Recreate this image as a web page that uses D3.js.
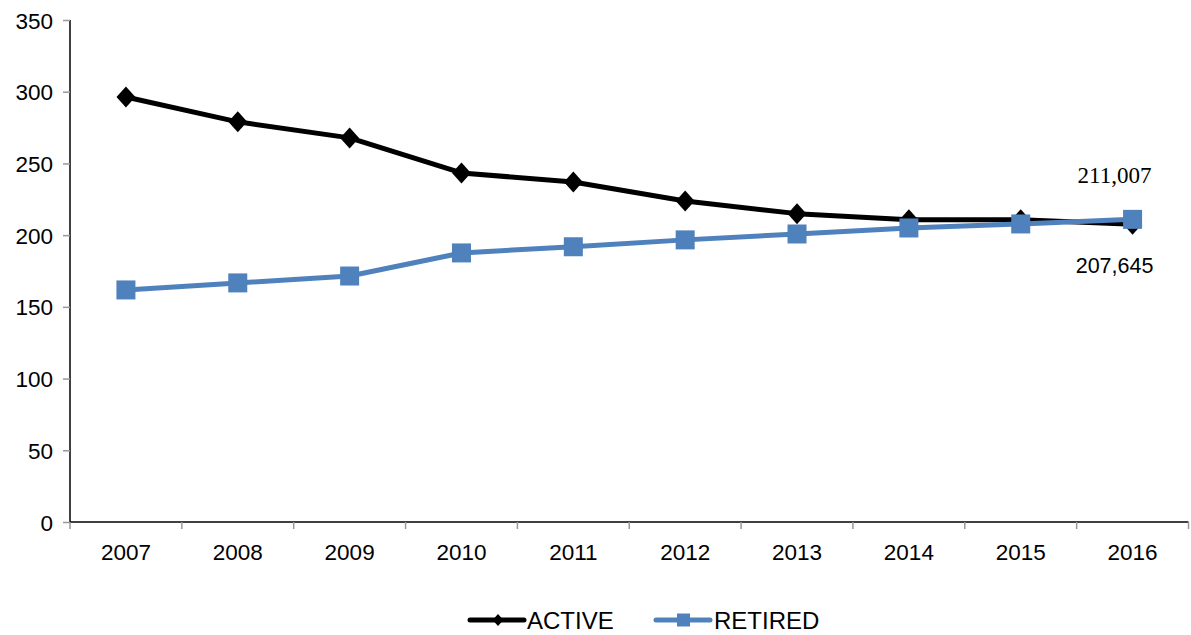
<!DOCTYPE html>
<html>
<head>
<meta charset="utf-8">
<script src="https://cdn.jsdelivr.net/npm/d3@7"></script>
<style>
  html, body { margin: 0; padding: 0; background: #fff; }
  svg { display: block; }
  text { font-family: "Liberation Sans", Arial, sans-serif; fill: #000; }
</style>
</head>
<body>
<script>
// Member counts (thousands) per year
const years = ["2007","2008","2009","2010","2011","2012","2013","2014","2015","2016"];
const active = [296.3, 279.0, 267.8, 243.4, 237.0, 223.8, 215.0, 210.8, 210.8, 207.645];
const retired = [161.8, 166.7, 171.5, 187.6, 191.9, 196.7, 200.8, 205.0, 207.8, 211.007];
const yTicks = [0, 50, 100, 150, 200, 250, 300, 350];
const activeLabel = "207,645";
const retiredLabel = "211,007";

const W = 1191, H = 635;
const margin = { left: 70, right: 2, top: 20, bottom: 113 };
const plotW = W - margin.left - margin.right;
const plotH = H - margin.top - margin.bottom;

const svg = d3.select("body").append("svg").attr("width", W).attr("height", H);
const g = svg.append("g").attr("transform", `translate(${margin.left},${margin.top})`);

const x = d3.scaleBand().domain(years).range([0, plotW - 0.5]).paddingInner(0).paddingOuter(0);
const y = d3.scaleLinear().domain([0, 350]).range([plotH, 0]);
const cx = d => x(d) + x.bandwidth() / 2;

// y axis
const yAxis = g.append("g").call(d3.axisLeft(y).tickValues(yTicks).tickSize(7).tickPadding(10).tickFormat(d3.format("d")));
yAxis.select(".domain").attr("stroke", "#000").attr("stroke-width", 1.5).attr("d", `M0,0V${plotH}`);
yAxis.selectAll(".tick line").attr("stroke", "#999").attr("stroke-width", 1.5);
yAxis.selectAll(".tick text").style("font-size", "22.5px").attr("dy", "0.36em");

// x axis with tick marks on category boundaries
const xAxis = g.append("g").attr("transform", `translate(0,${plotH})`);
xAxis.append("line").attr("x1", 0).attr("x2", plotW - 0.5).attr("stroke", "#000").attr("stroke-width", 1.5);
const bounds = years.map(d => x(d)).concat([x(years[years.length - 1]) + x.bandwidth()]);
xAxis.selectAll("line.tb").data(bounds).join("line").attr("class", "tb")
  .attr("x1", d => d).attr("x2", d => d).attr("y1", 0).attr("y2", 7)
  .attr("stroke", "#999").attr("stroke-width", 1.5);
xAxis.selectAll("text").data(years).join("text")
  .attr("x", d => cx(d)).attr("y", 38).attr("text-anchor", "middle")
  .style("font-size", "22.5px").text(d => d);

const line = d3.line().x((d, i) => cx(years[i])).y(d => y(d));
const blue = "#4F81BD";

// ACTIVE series
g.append("path").datum(active).attr("d", line).attr("fill", "none")
  .attr("stroke", "#000").attr("stroke-width", 5).attr("stroke-linejoin", "round");
const diamond = (s) => `M0,${-s}L${s*0.9},0L0,${s}L${-s*0.9},0Z`;
g.selectAll("path.dia").data(active).join("path").attr("class", "dia")
  .attr("d", diamond(10.5))
  .attr("transform", (d, i) => `translate(${cx(years[i])},${y(d)})`)
  .attr("fill", "#000");

// RETIRED series
g.append("path").datum(retired).attr("d", line).attr("fill", "none")
  .attr("stroke", blue).attr("stroke-width", 5).attr("stroke-linejoin", "round");
g.selectAll("rect.sq").data(retired).join("rect").attr("class", "sq")
  .attr("x", (d, i) => cx(years[i]) - 9.5).attr("y", d => y(d) - 9.5)
  .attr("width", 19).attr("height", 19).attr("fill", blue);

// End-point value labels
const last = years.length - 1;
g.append("text").attr("x", cx(years[last]) - 18).attr("y", y(retired[last]) - 36)
  .attr("text-anchor", "middle").style("font-family", "'Liberation Serif', 'Times New Roman', serif")
  .style("font-size", "23px").text(retiredLabel);
g.append("text").attr("x", cx(years[last]) - 18).attr("y", y(active[last]) + 49)
  .attr("text-anchor", "middle").style("font-size", "21.5px").text(activeLabel);

// Legend
const lg = svg.append("g").attr("transform", "translate(0,620)");
lg.append("line").attr("x1", 470).attr("x2", 524).attr("stroke", "#000").attr("stroke-width", 5).attr("stroke-linecap", "round");
lg.append("path").attr("d", diamond(6)).attr("transform", "translate(498,0)").attr("fill", "#000");
lg.append("text").attr("x", 527).attr("y", 8.5).style("font-size", "24px").text("ACTIVE");
lg.append("line").attr("x1", 656).attr("x2", 710).attr("stroke", blue).attr("stroke-width", 5).attr("stroke-linecap", "round");
lg.append("rect").attr("x", 677).attr("y", -6.5).attr("width", 13).attr("height", 13).attr("fill", blue);
lg.append("text").attr("x", 714).attr("y", 8.5).style("font-size", "24px").text("RETIRED");
</script>
</body>
</html>
